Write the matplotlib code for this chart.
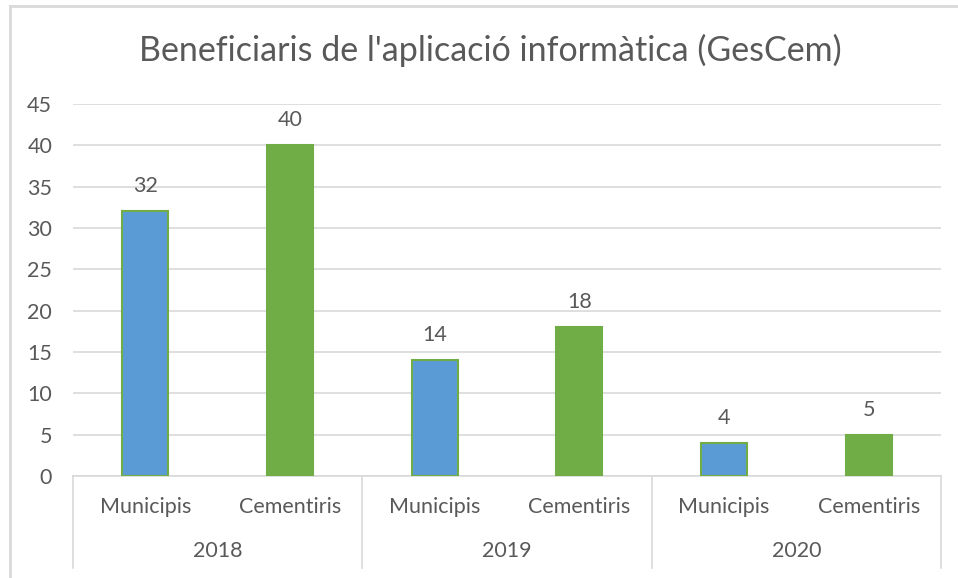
import matplotlib.pyplot as plt
from matplotlib.lines import Line2D

plt.rcParams['font.family'] = ['Lato', 'DejaVu Sans']

years = ['2018', '2019', '2020']
kinds = ['Municipis', 'Cementiris']
municipis = [32, 14, 4]
cementiris = [40, 18, 5]
title = "Beneficiaris de l'aplicació informàtica (GesCem)"

TEXT = '#595959'
GRID = '#d9d9d9'
BLUE = '#5b9bd5'
GREEN = '#70ad47'
FS = 15.5

W, H = 958, 578
fig = plt.figure(figsize=(W / 100, H / 100), dpi=100)

# axes placed in pixels like the Excel plot area
x0, x1, y_top, y_bot = 73, 941, 104, 476
ax = fig.add_axes([x0 / W, (H - y_bot) / H, (x1 - x0) / W, (y_bot - y_top) / H])

values = []
colors = []
for m, c in zip(municipis, cementiris):
    values += [m, c]
    colors += [BLUE, GREEN]
xs = list(range(len(values)))

ax.bar(xs, values, width=0.32, color=colors, edgecolor=GREEN, linewidth=1.5, zorder=3)
for x, v in zip(xs, values):
    ax.annotate(str(v), (x, v), xytext=(0, 18), textcoords='offset points',
                ha='center', va='center', fontsize=FS, color=TEXT)

ax.set_xlim(-0.5, len(values) - 0.5)
ax.set_ylim(0, 45)
ax.set_yticks(range(0, 50, 5))
ax.yaxis.grid(True, color=GRID, linewidth=1.2, zorder=0)
ax.tick_params(axis='y', length=0, pad=15, labelsize=FS, labelcolor=TEXT)
ax.set_xticks([])
for side in ['left', 'right', 'top']:
    ax.spines[side].set_visible(False)
ax.spines['bottom'].set_color(GRID)
ax.spines['bottom'].set_linewidth(1.2)

# two-level category axis
px = 1 / (y_bot - y_top)
tr = ax.get_xaxis_transform()
for x, v in zip(xs, values):
    ax.text(x, -31 * px, kinds[x % 2], transform=tr, ha='center', va='center',
            fontsize=FS, color=TEXT)
for i, yr in enumerate(years):
    ax.text(2 * i + 0.5, -75 * px, yr, transform=tr, ha='center', va='center',
            fontsize=FS, color=TEXT)
for b in [-0.5, 1.5, 3.5, 5.5]:
    ax.add_line(Line2D([b, b], [0, -92 * px], transform=tr, color=GRID,
                       linewidth=1.2, clip_on=False))

fig.text(490 / W, (H - 50) / H, title, ha='center', va='center', fontsize=24.5, color=TEXT)

# chart area border (cropped on the right and bottom)
fig.add_artist(Line2D([10 / W, 10 / W], [0, (H - 6) / H], color=GRID, linewidth=2))
fig.add_artist(Line2D([10 / W, 1], [(H - 6) / H, (H - 6) / H], color=GRID, linewidth=2))

fig.savefig('out.png', dpi=100)
